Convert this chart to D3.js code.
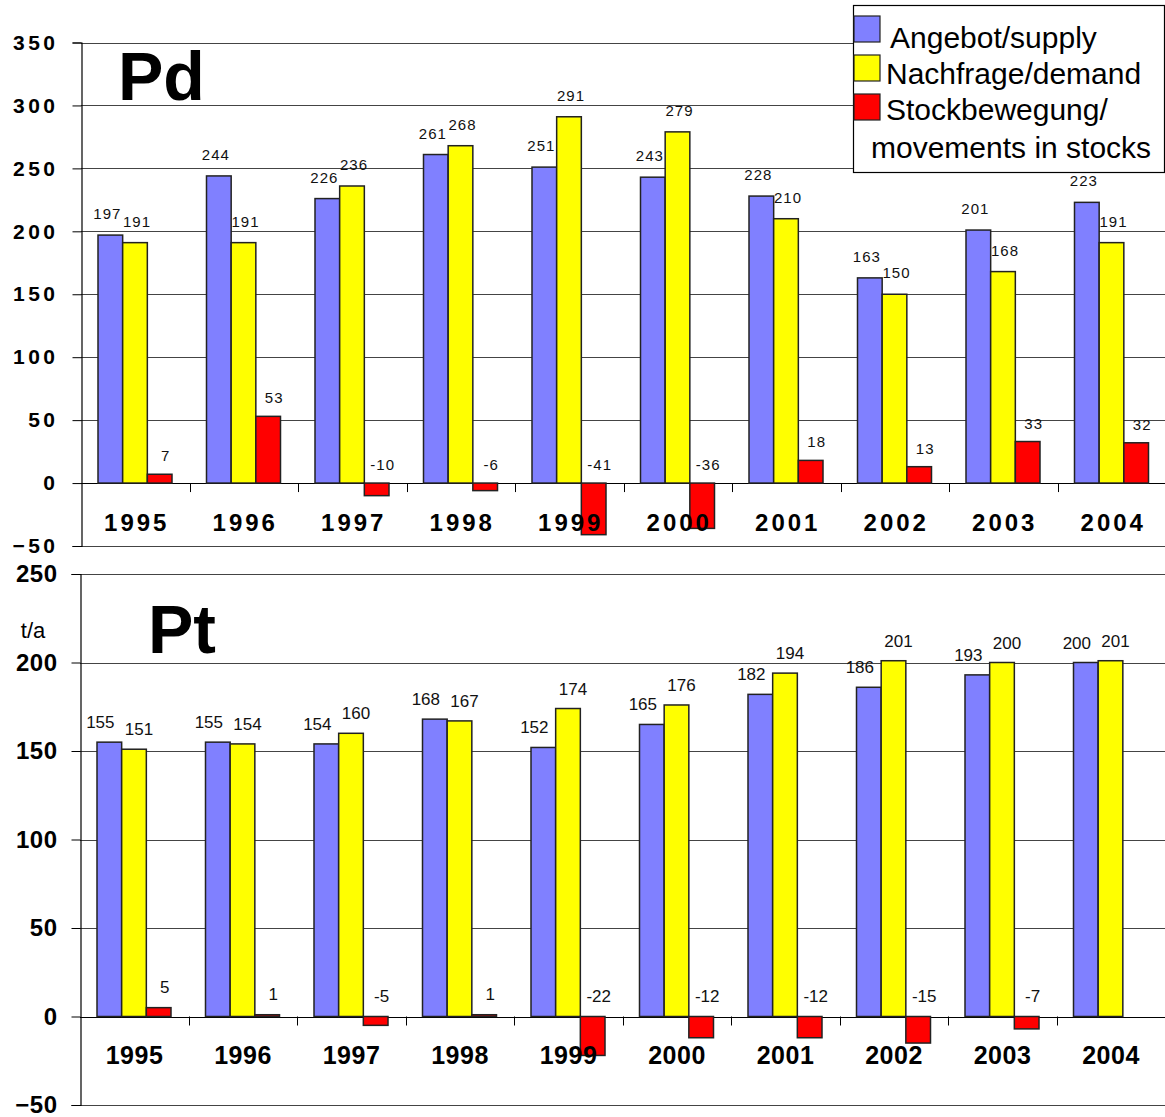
<!DOCTYPE html>
<html>
<head>
<meta charset="utf-8">
<script src="https://d3js.org/d3.v7.min.js"></script>
<style>
  body { margin: 0; background: #fff; }
  svg { display: block; font-family: Arial, "Liberation Sans", sans-serif; }
</style>
</head>
<body>
<svg width="1165" height="1117"></svg>
<script>
// data
var years = ["1995", "1996", "1997", "1998", "1999", "2000", "2001", "2002", "2003", "2004"];
var series = ["supply", "demand", "stocks"];
var legendLabels = [["Angebot/supply"], ["Nachfrage/demand"], ["Stockbewegung/", "movements in stocks"]];

var pdSupply = [197, 244, 226, 261, 251, 243, 228, 163, 201, 223];
var pdDemand = [191, 191, 236, 268, 291, 279, 210, 150, 168, 191];
var pdStocks = [7, 53, -10, -6, -41, -36, 18, 13, 33, 32];

var ptSupply = [155, 155, 154, 168, 152, 165, 182, 186, 193, 200];
var ptDemand = [151, 154, 160, 167, 174, 176, 194, 201, 200, 201];
var ptStocks = [5, 1, -5, 1, -22, -12, -12, -15, -7, null];

var pdTicks = [-50, 0, 50, 100, 150, 200, 250, 300, 350];
var ptTicks = [-50, 0, 50, 100, 150, 200, 250];

var colors = {supply: "#8080FF", demand: "#FFFF00", stocks: "#FF0000"};

var svg = d3.select("svg");

function rows(s, d, st) {
    return years.map(function (y, i) {
        return {year: y, supply: s[i], demand: d[i], stocks: st[i]};
    });
}

/* one bar panel */
function panel(opt) {
    var data = rows(opt.supply, opt.demand, opt.stocks);
    var y = d3.scaleLinear().domain([opt.ticks[0], opt.ticks[opt.ticks.length - 1]]).range([opt.bottom, opt.top]);
    var x0 = d3.scaleBand().domain(years).range([opt.left, opt.left + 1085]);
    var x1 = d3.scaleBand().domain(series).range([17, 17 + 74]);
    var shift = {supply: opt.blueShift, demand: opt.yellowShift, stocks: 6};

    var g = svg.append("g");

    // gridlines
    g.selectAll(".grid")
        .data(opt.ticks)
        .enter().append("line")
        .attr("x1", opt.left).attr("x2", 1165)
        .attr("y1", function (d) { return Math.round(y(d)) + 0.5; })
        .attr("y2", function (d) { return Math.round(y(d)) + 0.5; })
        .attr("stroke", function (d) { return d === 0 ? "#000" : "#444"; })
        .attr("stroke-width", 1);

    // y axis with tick labels
    var ax = g.append("g")
        .attr("transform", "translate(" + (opt.left + 0.5) + ",0)")
        .call(d3.axisLeft(y).tickValues(opt.ticks).tickSize(9).tickPadding(opt.pad));
    ax.select(".domain").attr("stroke", "#000").attr("stroke-width", 1.2);
    ax.selectAll(".tick line").attr("stroke", "#000");
    ax.selectAll(".tick text")
        .attr("fill", "#000")
        .style("font-size", opt.tickFont + "px")
        .style("font-weight", "bold")
        .style("letter-spacing", opt.tickSpacing + "px");

    // category separators below zero line
    g.selectAll(".sep")
        .data(years.slice(1))
        .enter().append("line")
        .attr("x1", function (d) { return Math.round(x0(d)) + 0.5; })
        .attr("x2", function (d) { return Math.round(x0(d)) + 0.5; })
        .attr("y1", y(0)).attr("y2", y(0) + 9)
        .attr("stroke", "#000");

    // bars
    var groups = g.selectAll(".yr")
        .data(data)
        .enter().append("g")
        .attr("transform", function (d) { return "translate(" + x0(d.year) + ",0)"; });

    function cells(d) {
        return series.filter(function (k) { return d[k] !== null; })
            .map(function (k) { return {key: k, value: d[k]}; });
    }

    groups.selectAll("rect")
        .data(cells)
        .enter().append("rect")
        .attr("x", function (d) { return x1(d.key); })
        .attr("width", x1.bandwidth())
        .attr("y", function (d) { return y(Math.max(0, d.value)); })
        .attr("height", function (d) { return Math.max(1.5, Math.abs(y(d.value) - y(0))); })
        .attr("fill", function (d) { return colors[d.key]; })
        .attr("stroke", "#222")
        .attr("stroke-width", 1.5);

    // value labels
    groups.selectAll(".lbl")
        .data(cells)
        .enter().append("text")
        .attr("x", function (d) { return x1(d.key) + x1.bandwidth() / 2 + shift[d.key]; })
        .attr("y", function (d) {
            return y(Math.max(0, d.value)) - (d.key === "stocks" ? opt.redOff : opt.barOff);
        })
        .attr("text-anchor", "middle")
        .style("font-size", opt.lblFont + "px")
        .style("letter-spacing", opt.lblSpacing + "px")
        .attr("fill", "#111")
        .text(function (d) { return d.value; });

    // year labels
    g.selectAll(".year")
        .data(years)
        .enter().append("text")
        .attr("x", function (d) { return x0(d) + x0.bandwidth() / 2 + opt.yearSpacing / 2; })
        .attr("y", opt.yearY)
        .attr("text-anchor", "middle")
        .style("font-size", opt.yearFont + "px")
        .style("font-weight", "bold")
        .style("letter-spacing", opt.yearSpacing + "px")
        .text(function (d) { return d; });

    // metal title
    g.append("text")
        .attr("x", opt.titleX).attr("y", opt.titleY)
        .style("font-size", "68px")
        .style("font-weight", "bold")
        .text(opt.title);
}

panel({
    title: "Pd", titleX: 118, titleY: 100,
    supply: pdSupply, demand: pdDemand, stocks: pdStocks,
    ticks: pdTicks, top: 42.5, bottom: 546, left: 81,
    pad: 14, tickFont: 21, tickSpacing: 3.5,
    lblFont: 15, lblSpacing: 1, barOff: 16, redOff: 13,
    blueShift: -3, yellowShift: 2,
    yearY: 531, yearFont: 24, yearSpacing: 3
});

panel({
    title: "Pt", titleX: 148, titleY: 653,
    supply: ptSupply, demand: ptDemand, stocks: ptStocks,
    ticks: ptTicks, top: 574, bottom: 1105, left: 80,
    pad: 14, tickFont: 24, tickSpacing: 0.5,
    lblFont: 17, lblSpacing: 0, barOff: 14, redOff: 15,
    blueShift: -9, yellowShift: 5,
    yearY: 1064, yearFont: 25, yearSpacing: 0.5
});

// unit label
svg.append("text")
    .attr("x", 33).attr("y", 638)
    .attr("text-anchor", "middle")
    .style("font-size", "22px")
    .text("t/a");

// legend
var lg = svg.append("g");
lg.append("rect")
    .attr("x", 853.5).attr("y", 5.5)
    .attr("width", 311).attr("height", 167)
    .attr("fill", "#fff").attr("stroke", "#000").attr("stroke-width", 1.2);

series.forEach(function (k, i) {
    lg.append("rect")
        .attr("x", 854).attr("y", 16 + i * 39)
        .attr("width", 26).attr("height", 26)
        .attr("fill", colors[k]).attr("stroke", "#222").attr("stroke-width", 1.2);
});

var legendLines = [
    {text: legendLabels[0][0], x: 890, y: 48},
    {text: legendLabels[1][0], x: 886, y: 84},
    {text: legendLabels[2][0], x: 886, y: 120},
    {text: legendLabels[2][1], x: 871, y: 158}
];
lg.selectAll(".lt")
    .data(legendLines)
    .enter().append("text")
    .attr("x", function (d) { return d.x; })
    .attr("y", function (d) { return d.y; })
    .style("font-size", "30px")
    .text(function (d) { return d.text; });
</script>
</body>
</html>
